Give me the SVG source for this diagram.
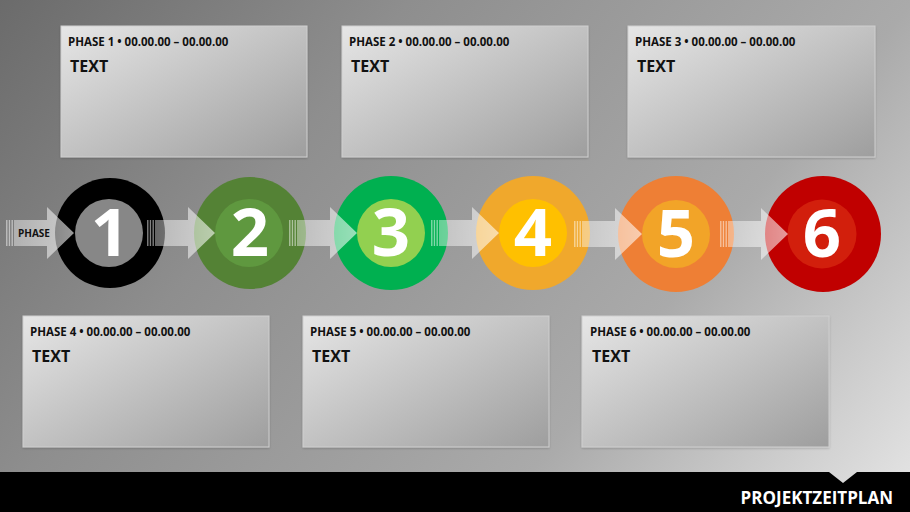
<svg xmlns="http://www.w3.org/2000/svg" width="910" height="512" viewBox="0 0 910 512">
<defs>
<linearGradient id="bg" x1="0" y1="0" x2="799" y2="648" gradientUnits="userSpaceOnUse">
<stop offset="0" stop-color="#6b6b6b"/>
<stop offset="0.31" stop-color="#8e8e8e"/>
<stop offset="0.69" stop-color="#aaaaaa"/>
<stop offset="1" stop-color="#e6e6e6"/>
</linearGradient>
<linearGradient id="box" x1="0" y1="0" x2="1" y2="1">
<stop offset="0" stop-color="#e6e6e6"/>
<stop offset="1" stop-color="#9e9e9e"/>
</linearGradient>
<linearGradient id="arr" x1="0" y1="0" x2="1" y2="0">
<stop offset="0" stop-color="#ffffff" stop-opacity="0.4"/>
<stop offset="1" stop-color="#ffffff" stop-opacity="0.6"/>
</linearGradient>
<filter id="sh" x="-10%" y="-10%" width="120%" height="130%">
<feDropShadow dx="0" dy="1" stdDeviation="1.2" flood-color="#000" flood-opacity="0.2"/>
</filter>
<g id="arrow">
<rect x="-68" y="-13" width="1.4" height="26"/>
<rect x="-65.3" y="-13" width="1.4" height="26"/>
<rect x="-62.6" y="-13" width="1.4" height="26"/>
<path d="M-60,-13 H-27 V-26 L0,0 L-27,26 V13 H-60 Z"/>
</g>
</defs>
<style>
.box{fill:url(#box);stroke:#cfcfcf;stroke-width:1;filter:url(#sh)}
.ttl{font-family:"Open Sans",sans-serif;font-weight:bold;font-size:11.5px;fill:#111}
.txt{font-family:"Open Sans",sans-serif;font-weight:bold;font-size:16px;fill:#111}
.num{font-family:"Open Sans",sans-serif;font-weight:bold;font-size:67px;fill:#fff;text-anchor:middle}
.arw{fill:url(#arr)}
</style>
<rect width="910" height="512" fill="url(#bg)"/>

<g id="box1"><rect class="box" x="61" y="26" width="246" height="131"/><text class="ttl" x="68" y="46">PHASE 1 • 00.00.00 – 00.00.00</text><text class="txt" x="70" y="72">TEXT</text></g>
<g id="box2"><rect class="box" x="342" y="26" width="246" height="131"/><text class="ttl" x="349" y="46">PHASE 2 • 00.00.00 – 00.00.00</text><text class="txt" x="351" y="72">TEXT</text></g>
<g id="box3"><rect class="box" x="628" y="26" width="247" height="131"/><text class="ttl" x="635" y="46">PHASE 3 • 00.00.00 – 00.00.00</text><text class="txt" x="637" y="72">TEXT</text></g>
<g id="box4"><rect class="box" x="23" y="316" width="246" height="131"/><text class="ttl" x="30" y="336">PHASE 4 • 00.00.00 – 00.00.00</text><text class="txt" x="32" y="362">TEXT</text></g>
<g id="box5"><rect class="box" x="303" y="316" width="246" height="131"/><text class="ttl" x="310" y="336">PHASE 5 • 00.00.00 – 00.00.00</text><text class="txt" x="312" y="362">TEXT</text></g>
<g id="box6"><rect class="box" x="582" y="316" width="247" height="131"/><text class="ttl" x="590" y="336">PHASE 6 • 00.00.00 – 00.00.00</text><text class="txt" x="592" y="362">TEXT</text></g>

<g id="circle1"><circle cx="110" cy="233" r="55" fill="#000"/><circle cx="109" cy="233" r="34" fill="#878787"/><text class="num" x="110" y="256">1</text></g>
<g id="circle2"><circle cx="250" cy="233" r="56" fill="#548235"/><circle cx="249" cy="233" r="34" fill="#5f983f"/><text class="num" x="250" y="256">2</text></g>
<g id="circle3"><circle cx="391" cy="233" r="57" fill="#00b050"/><circle cx="391" cy="233" r="34" fill="#92d050"/><text class="num" x="391" y="256">3</text></g>
<g id="circle4"><circle cx="533" cy="233" r="57" fill="#f0a82c"/><circle cx="533" cy="233" r="34" fill="#ffc000"/><text class="num" x="533" y="256">4</text></g>
<g id="circle5"><circle cx="676" cy="234" r="58" fill="#ee7f35"/><circle cx="676" cy="234" r="34" fill="#f2a428"/><text class="num" x="676" y="257">5</text></g>
<g id="circle6"><circle cx="823" cy="234" r="58" fill="#c00000"/><circle cx="822" cy="234" r="34.5" fill="#d21f0c"/><text class="num" x="822" y="257">6</text></g>

<g id="connectors" class="arw">
<use href="#arrow" transform="translate(74,233)"/>
<use href="#arrow" transform="translate(215,233)"/>
<use href="#arrow" transform="translate(357,233)"/>
<use href="#arrow" transform="translate(499,233)"/>
<use href="#arrow" transform="translate(642,234)"/>
<use href="#arrow" transform="translate(788,234)"/>
</g>
<text x="18" y="237" style="font-family:'Open Sans',sans-serif;font-weight:bold;font-size:10px;fill:#111">PHASE</text>

<g id="footer">
<path d="M0,472 H829 L843,483 L857,472 H910 V512 H0 Z" fill="#000"/>
<text x="893" y="504" text-anchor="end" style="font-family:'Open Sans',sans-serif;font-weight:bold;font-size:17px;fill:#fff">PROJEKTZEITPLAN</text>
</g>
</svg>
